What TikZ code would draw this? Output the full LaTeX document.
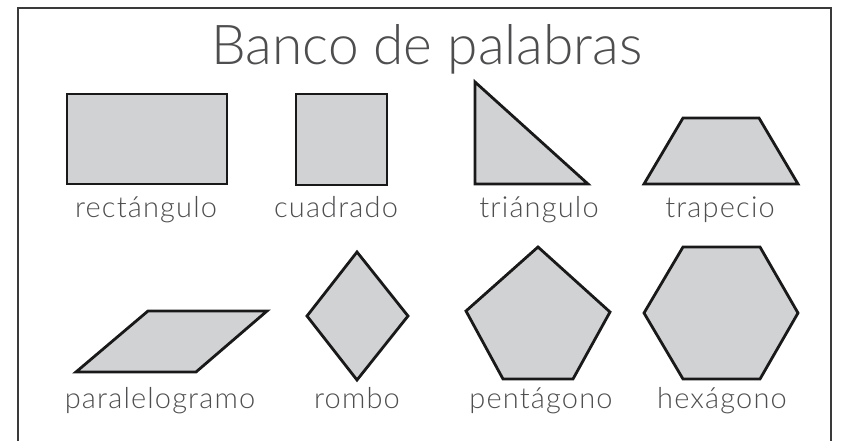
\documentclass[tikz,border=0pt]{standalone}
\usepackage{fontspec}
\setmainfont{Lato Light}
\definecolor{shapefill}{HTML}{D1D2D4}
\definecolor{txtgray}{HTML}{4E4E50}
\definecolor{framegray}{HTML}{3A3A3A}
\begin{document}
\begin{tikzpicture}[x=1pt,y=-1pt,
  shp/.style={draw=black!90,fill=shapefill,line width=2.8pt,line join=miter},
  lbl/.style={anchor=base,inner sep=0pt,text=txtgray,font=\fontsize{29}{32}\selectfont\addfontfeature{LetterSpace=4}},
  ttl/.style={anchor=base,inner sep=0pt,text=txtgray,font=\fontsize{55}{60}\selectfont}]
\useasboundingbox (0,0) rectangle (841,441);
% frame
\draw[framegray,line width=1.4pt] (18,441) -- (18,8) -- (831,8) -- (831,441);
% title
\node[ttl] (title) at (427,65) {Banco de palabras};
% row 1
\draw[shp] (67,94) rectangle (227,184);
\node[lbl] (l1) at (146,218) {rectángulo};
\draw[shp] (296,94) rectangle (387,185);
\node[lbl] (l2) at (336,218) {cuadrado};
\draw[shp] (475,82) -- (588,184) -- (475,184) -- cycle;
\node[lbl] (l3) at (539,218) {triángulo};
\draw[shp] (683,118) -- (759,118) -- (798,184) -- (644,184) -- cycle;
\node[lbl] (l4) at (720,218) {trapecio};
% row 2
\draw[shp] (148,311) -- (267,311) -- (196,372) -- (76,372) -- cycle;
\node[lbl] (l5) at (160,408) {paralelogramo};
\draw[shp] (357,252) -- (408,316) -- (357,380) -- (307,316) -- cycle;
\node[lbl] (l6) at (357,408) {rombo};
\draw[shp] (538,247) -- (610,312) -- (573,379) -- (503,379) -- (466,311) -- cycle;
\node[lbl] (l7) at (541,408) {pentágono};
\draw[shp] (683,247) -- (760,247) -- (798,313) -- (760,379) -- (683,379) -- (644,313) -- cycle;
\node[lbl] (l8) at (722,408) {hexágono};
\end{tikzpicture}
\end{document}
